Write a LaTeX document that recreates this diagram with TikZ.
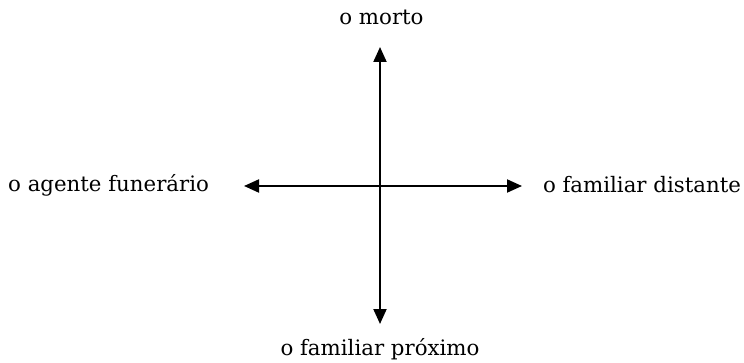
\documentclass[tikz,border=0pt]{standalone}
\usepackage{fontspec}
\setmainfont{DejaVu Serif}
\usetikzlibrary{arrows.meta}
\begin{document}
\begin{tikzpicture}[x=1pt,y=-1pt,
  lbl/.style={inner sep=0pt,outer sep=0pt,font=\fontsize{21.3}{25}\selectfont},
  axis/.style={line width=2pt,-{Triangle[length=15pt,width=13pt]}}]
\useasboundingbox (0,0) rectangle (744,363);
\coordinate (c) at (380,186);
\coordinate (tn) at (380,47);
\coordinate (ts) at (380,324);
\coordinate (tw) at (244,186);
\coordinate (te) at (522,186);
\node[lbl,anchor=base] (n) at (381.5,25) {o morto};
\node[lbl,anchor=base] (s) at (380,355) {o familiar próximo};
\node[lbl,anchor=base east] (w) at (209,192) {o agente funerário};
\node[lbl,anchor=base west] (e) at (543,193) {o familiar distante};
\draw[axis] (c) -- (tn);
\draw[axis] (c) -- (ts);
\draw[axis] (c) -- (tw);
\draw[axis] (c) -- (te);
\end{tikzpicture}
\end{document}
